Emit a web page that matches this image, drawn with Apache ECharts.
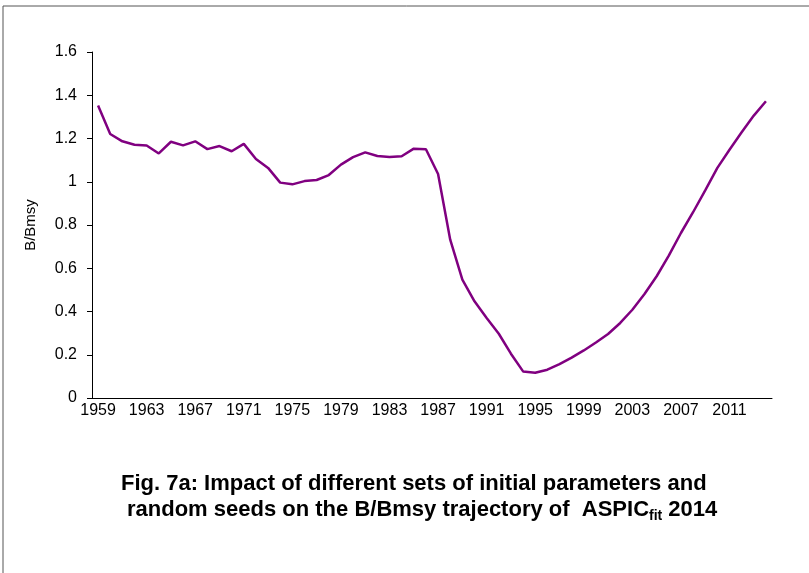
<!DOCTYPE html>
<html>
<head>
<meta charset="utf-8">
<title>B/Bmsy trajectory</title>
<script src="https://cdn.jsdelivr.net/npm/echarts@6/dist/echarts.min.js"></script>
<style>
  html, body { margin: 0; padding: 0; background: #fff; }
  #chart { width: 809px; height: 573px; }
</style>
</head>
<body>
<div id="chart"></div>
<script>
// years on the category axis
var years = [];
for (var y = 1959; y <= 2014; y++) years.push(String(y));

// B/Bmsy
var bBmsy = [
  1.353, 1.221, 1.187, 1.171, 1.168, 1.131, 1.185, 1.168, 1.187, 1.151,
  1.165, 1.141, 1.175, 1.105, 1.064, 0.996, 0.988, 1.003, 1.008, 1.031,
  1.079, 1.114, 1.136, 1.119, 1.114, 1.118, 1.153, 1.150, 1.036, 0.732,
  0.547, 0.447, 0.370, 0.297, 0.205, 0.123, 0.117, 0.131, 0.157, 0.187,
  0.220, 0.257, 0.296, 0.347, 0.408, 0.481, 0.563, 0.658, 0.763, 0.859,
  0.960, 1.064, 1.148, 1.229, 1.306, 1.372
];

var yTicks = { min: 0, max: 1.6, step: 0.2 };

var titleFont = "bold 22px Liberation Sans, Arial, sans-serif";

var chart = echarts.init(document.getElementById("chart"));
chart.setOption({
  animation: false,
  textStyle: { fontFamily: "Liberation Sans, Arial, sans-serif" },
  grid: { left: 92, top: 52, right: 37, bottom: 175 },
  graphic: [
    {
      // page frame, only left and top edges are in view
      type: "rect",
      shape: { x: 3, y: 6, width: 900, height: 700 },
      style: { fill: "none", stroke: "#555", lineWidth: 1 },
      silent: true
    },
    {
      type: "text",
      left: 121,
      top: 473,
      style: {
        text: "Fig. 7a: Impact of different sets of initial parameters and",
        font: titleFont,
        fill: "#000"
      }
    },
    {
      type: "text",
      left: 127,
      top: 499,
      style: {
        text: "random seeds on the B/Bmsy trajectory of  ASPIC{s|fit} 2014",
        font: titleFont,
        fill: "#000",
        rich: {
          s: {
            font: "bold 14px Liberation Sans, Arial, sans-serif",
            fill: "#000",
            padding: [12, 0, 0, 0]
          }
        }
      }
    }
  ],
  xAxis: {
    type: "category",
    data: years,
    boundaryGap: true,
    axisLine: { lineStyle: { color: "#000", width: 1 } },
    axisTick: { interval: 3, length: 5, lineStyle: { color: "#000" } },
    axisLabel: { interval: 3, color: "#000", fontSize: 16, margin: 5 },
    splitLine: { show: false }
  },
  yAxis: {
    type: "value",
    name: "B/Bmsy",
    nameLocation: "middle",
    nameGap: 54,
    nameTextStyle: { color: "#000", fontSize: 15 },
    min: yTicks.min,
    max: yTicks.max,
    interval: yTicks.step,
    axisLine: { show: true, lineStyle: { color: "#000", width: 1 } },
    axisTick: { show: true, length: 5, lineStyle: { color: "#000" } },
    axisLabel: { color: "#000", fontSize: 16, margin: 15 },
    splitLine: { show: false }
  },
  series: [
    {
      type: "line",
      data: bBmsy,
      showSymbol: false,
      lineStyle: { color: "#800080", width: 2.5 },
      itemStyle: { color: "#800080" }
    }
  ]
});
</script>
</body>
</html>
